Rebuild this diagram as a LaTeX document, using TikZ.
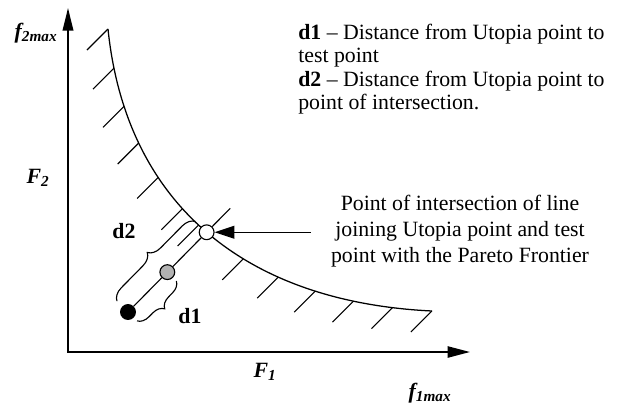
\documentclass[tikz,border=0pt]{standalone}
\usepackage{fontspec}
\setmainfont{Liberation Serif}
\usetikzlibrary{arrows.meta,calc,decorations.pathreplacing,decorations.markings}
\newcommand{\hatchmark}{\pgftransformresetnontranslations\draw[line width=0.8pt] (0,0) -- (-21,-21);}

\begin{document}
\begin{tikzpicture}[x=0.025cm, y=0.025cm,
  every node/.style={font=\fontsize{15.5}{18.5}\selectfont},
  axis/.style={line width=1.3pt, {Triangle[length=16pt,width=7.5pt]}-{Triangle[length=16pt,width=8pt]}},
  pointer/.style={line width=1pt, -{Triangle[length=14pt,width=9pt]}},
  dot/.style={circle, draw, line width=0.8pt, minimum size=3.7mm, inner sep=0pt},
  dbrace/.style 2 args={line width=0.8pt, decorate, decoration={brace, amplitude=#1, raise=#2}},
  front/.style={line width=0.9pt},
  hatched/.style={postaction={decorate, decoration={markings,
      mark=between positions 0 and 0.42 step 0.0833 with {\hatchmark},
      mark=at position 0.465 with {\hatchmark},
      mark=between positions 0.583 and 1 step 0.0833 with {\hatchmark}}}}]
  \useasboundingbox (0,0) rectangle (628,404);
  \coordinate (origin) at (68,52);
  \coordinate (ytop) at (68,396);
  \coordinate (xend) at (470,52);
  \draw[axis] (ytop) -- (origin) -- (xend);
  \draw[front, hatched] (108,375) .. controls (126,200) and (245,102) .. (432,93)
    coordinate[pos=0.5] (ip);
  \node[dot, fill=black] (utopia) at (128,92) {};
  \node[dot, fill=white] (inter) at (ip) {};
  \node[dot, fill=black!30] (test) at ($(utopia)!0.5!(inter)$) {};
  \coordinate (beyond) at ($(utopia)!1.3!(inter)$);
  \draw[line width=0.8pt] (utopia) -- (test) -- (inter) -- (beyond);
  \draw[dbrace={8pt}{9pt}] (test.center) -- (utopia.center);
  \draw[dbrace={9pt}{11pt}] (utopia.center) -- (inter.center);
  \node[font=\fontsize{15.5}{18.5}\selectfont\bfseries] (d1lab) at (190,88) {d1};
  \node[font=\fontsize{15.5}{18.5}\selectfont\bfseries] (d2lab) at (124,173) {d2};
  \node[font=\fontsize{15.5}{18.5}\selectfont\bfseries\itshape] (f2lab) at (38,226) {F\textsubscript{2}};
  \node[font=\fontsize{15.5}{18.5}\selectfont\bfseries\itshape] (f1lab) at (265,32) {F\textsubscript{1}};
  \node[font=\fontsize{15.5}{18.5}\selectfont\bfseries\itshape] (f2max) at (36,371) {f\textsubscript{2max}};
  \node[font=\fontsize{15.5}{18.5}\selectfont\bfseries\itshape] (f1max) at (430,11) {f\textsubscript{1max}};
  \node[anchor=north west, align=left, inner sep=0pt, font=\fontsize{15.5}{16.5}\selectfont] (legend) at (298,380)
    {\textbf{d1} -- Distance from Utopia point to\\test point\\\textbf{d2} -- Distance from Utopia point to\\point of intersection.};
  \node[align=center] (note) at (460,173)
    {Point of intersection of line\\joining Utopia point and test\\point with the Pareto Frontier};
  \coordinate (tail) at ($(inter)+(104,0)$);
  \draw[pointer] (tail) -- (inter);
\end{tikzpicture}
\end{document}
